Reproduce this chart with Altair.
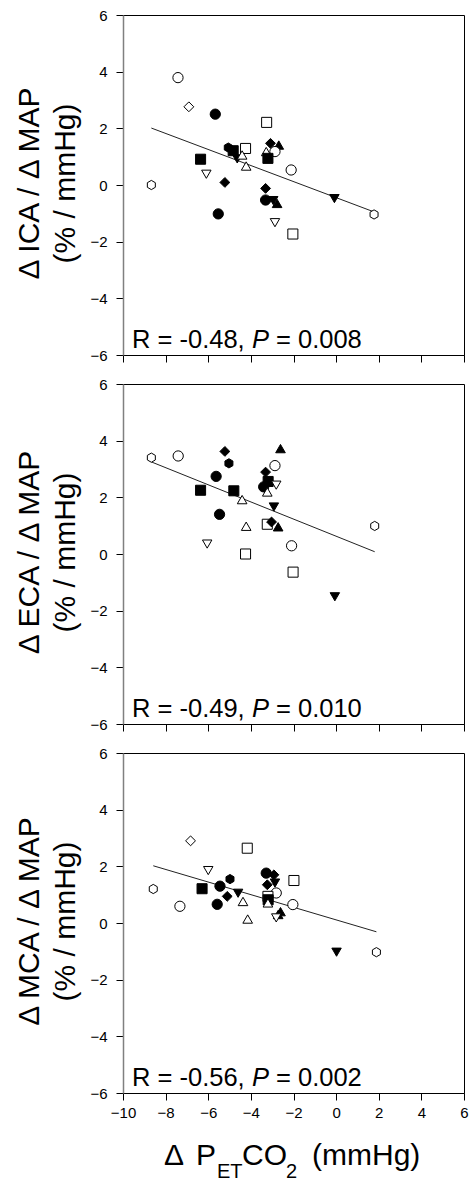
import altair as alt
import pandas as pd

FONT = "Arial"
C, S, D, TU, TD, H = "circle", "square", "diamond", "triangle-up", "triangle-down", "hexagon"
HEX_PATH = "M0,-1L0.866,-0.5L0.866,0.5L0,1L-0.866,0.5L-0.866,-0.5Z"
SHAPES = [C, S, D, TU, TD, H]
SHAPE_RANGE = ["circle", "square", "diamond", "triangle-up", "triangle-down", HEX_PATH]
SHAPE_SIZES = [105, 85, 150, 115, 115, 115]

x_ticks = [-10, -8, -6, -4, -2, 0, 2, 4, 6]
y_ticks = [-6, -4, -2, 0, 2, 4, 6]

# ---- Panel 1: ICA ----
ica_x = [-8.67, -7.42, -6.91, -5.67, -6.36, -6.09, -5.22, -5.53, -5.06, -4.83,
         -4.64, -4.25, -4.41, -4.22, -3.26, -3.08, -2.69, -3.28, -2.87, -3.20,
         -2.11, -3.31, -3.31, -2.95, -2.77, -0.08, -2.87, -2.03, 1.78]
ica_y = [0.00, 3.79, 2.76, 2.50, 0.91, 0.38, 0.09, -1.02, 1.32, 1.21,
         0.92, 1.29, 1.06, 0.67, 2.21, 1.47, 1.41, 1.18, 1.18, 0.94,
         0.53, -0.12, -0.53, -0.55, -0.65, -0.48, -1.33, -1.73, -1.04]
ica_shape = [H, C, D, C, S, TD, D, C, H, S,
             TD, S, TU, TU, S, D, TU, TU, C, S,
             C, D, C, TD, TU, TD, TD, S, H]
ica_filled = [0, 0, 0, 1, 1, 0, 1, 1, 1, 1,
              1, 0, 0, 0, 0, 1, 1, 0, 0, 1,
              0, 1, 1, 1, 1, 1, 0, 0, 0]
ica_fit_x = [-8.67, 1.78]
ica_fit_y = [2.01, -0.95]

# ---- Panel 2: ECA ----
eca_x = [-8.67, -7.41, -5.22, -5.03, -5.63, -6.36, -4.80, -4.41, -5.47, -4.22,
         -6.05, -2.61, -2.87, -3.31, -3.19, -3.40, -2.81, -3.23, -2.92, -3.23,
         -3.03, -2.72, -2.09, -4.25, -2.02, -0.06, 1.81]
eca_y = [3.40, 3.46, 3.62, 3.20, 2.74, 2.25, 2.23, 1.92, 1.40, 0.98,
         0.35, 3.72, 3.12, 2.89, 2.56, 2.37, 2.43, 2.19, 1.66, 1.05,
         1.13, 0.96, 0.29, 0.00, -0.64, -1.51, 0.99]
eca_shape = [H, C, D, H, C, S, S, TU, C, TU,
             TD, TU, C, D, S, C, TD, TU, TD, S,
             D, TU, C, S, S, TD, H]
eca_filled = [0, 0, 1, 1, 1, 1, 1, 0, 1, 0,
              0, 1, 0, 1, 1, 1, 0, 0, 1, 0,
              1, 1, 0, 0, 0, 1, 0]
eca_fit_x = [-8.67, 1.81]
eca_fit_y = [3.25, 0.08]

# ---- Panel 3: MCA ----
mca_x = [-8.58, -7.33, -6.83, -6.00, -6.29, -5.45, -5.58, -5.11, -4.98, -4.60,
         -4.37, -4.15, -4.17, -3.28, -2.92, -2.87, -3.23, -1.98, -2.81, -3.20,
         -3.19, -3.20, -2.03, -2.61, -2.72, -2.81, 0.02, 1.89]
mca_y = [1.20, 0.59, 2.90, 1.85, 1.21, 1.30, 0.66, 0.94, 1.55, 1.05,
         0.76, 0.14, 2.64, 1.76, 1.70, 1.41, 1.35, 1.50, 1.06, 0.94,
         0.82, 0.71, 0.65, 0.40, 0.30, 0.18, -1.03, -1.03]
mca_shape = [H, C, D, TD, S, C, C, D, H, TD,
             TU, TU, S, C, D, TD, D, S, C, S,
             S, TU, C, TU, TU, TD, TD, H]
mca_filled = [0, 0, 0, 0, 1, 1, 1, 1, 1, 1,
              0, 0, 0, 1, 1, 1, 1, 0, 0, 0,
              1, 0, 0, 1, 1, 0, 1, 0]
mca_fit_x = [-8.58, 1.89]
mca_fit_y = [2.02, -0.31]

r_labels = ["R = -0.48,", "R = -0.49,", "R = -0.56,"]
p_letter = "P"
p_labels = ["= 0.008", "= 0.010", "= 0.002"]
y_titles = [["\u0394 ICA / \u0394 MAP", "(% / mmHg)"],
            ["\u0394 ECA / \u0394 MAP", "(% / mmHg)"],
            ["\u0394 MCA / \u0394 MAP", "(% / mmHg)"]]
x_title_parts = ["\u0394", "P", "ET", "CO", "2", "(mmHg)"]
x_title_is_sub = [False, False, True, False, True, False]

W, HGT = 341, 340
XSC = alt.Scale(domain=[-10, 6], nice=False, zero=False)
YSC = alt.Scale(domain=[-6, 6], nice=False, zero=False)


def text_layer(s, x, y, size, italic=False):
    return alt.Chart(pd.DataFrame({"t": [s]})).mark_text(
        align="left", baseline="alphabetic", font=FONT, fontSize=size,
        fontStyle="italic" if italic else "normal", color="black"
    ).encode(text="t:N", x=alt.value(x), y=alt.value(y))


def panel(xs, ys, shapes, filled, fx, fy, r_lab, p_lab, ytitle, bottom):
    df = pd.DataFrame({"x": xs, "y": ys, "shape": shapes,
                       "fill": ["filled" if f else "open" for f in filled]})
    x_axis = alt.Axis(values=x_ticks, labels=bottom, title=None, grid=False,
                      tickSize=7, tickColor="black", domainColor="black",
                      labelFontSize=15, labelFont=FONT, labelColor="black",
                      labelPadding=5, labelFlush=False)
    y_axis = alt.Axis(values=y_ticks, title=ytitle, grid=False, tickSize=7,
                      tickColor="black", domainColor="#808080", domainWidth=1.5,
                      labelFontSize=15, labelFont=FONT, labelColor="black",
                      labelPadding=9, labelFlush=False,
                      titleFont=FONT, titleFontSize=30, titleFontWeight="normal",
                      titleColor="black", titleLineHeight=36, titleAngle=270,
                      titleAlign="center", titleBaseline="alphabetic",
                      titleX=-85, titleY=168)
    line = alt.Chart(pd.DataFrame({"x": fx, "y": fy})).mark_line(
        color="#222222", strokeWidth=1).encode(
        x=alt.X("x:Q", scale=XSC, axis=x_axis),
        y=alt.Y("y:Q", scale=YSC, axis=y_axis))
    pts = alt.Chart(df).mark_point(
        filled=True, stroke="black", strokeWidth=1, opacity=1,
        fillOpacity=1).encode(
        x=alt.X("x:Q", scale=XSC),
        y=alt.Y("y:Q", scale=YSC),
        shape=alt.Shape("shape:N", scale=alt.Scale(domain=SHAPES, range=SHAPE_RANGE), legend=None),
        size=alt.Size("shape:N", scale=alt.Scale(domain=SHAPES, range=SHAPE_SIZES), legend=None),
        fill=alt.Fill("fill:N", scale=alt.Scale(domain=["filled", "open"], range=["black", "white"]), legend=None))
    layers = [line, pts,
              text_layer(r_lab, 9, 333, 25.5),
              text_layer(p_letter, 129, 333, 25.5, italic=True),
              text_layer(p_lab, 153, 333, 25.5)]
    if bottom:
        xs_pos = [41, 73, 94, 119, 163, 189]
        for part, sub, px in zip(x_title_parts, x_title_is_sub, xs_pos):
            layers.append(text_layer(part, px, 425 if sub else 412, 20 if sub else 30))
    return alt.layer(*layers).properties(width=W, height=HGT)


p1 = panel(ica_x, ica_y, ica_shape, ica_filled, ica_fit_x, ica_fit_y,
           r_labels[0], p_labels[0], y_titles[0], False)
p2 = panel(eca_x, eca_y, eca_shape, eca_filled, eca_fit_x, eca_fit_y,
           r_labels[1], p_labels[1], y_titles[1], False)
p3 = panel(mca_x, mca_y, mca_shape, mca_filled, mca_fit_x, mca_fit_y,
           r_labels[2], p_labels[2], y_titles[2], True)

chart = alt.vconcat(p1, p2, p3, spacing=12).properties(
    padding={"left": 13, "top": 7, "right": 0, "bottom": 0}
).configure_view(stroke="black", strokeWidth=1)

chart.save("out.html", embed_options={"renderer": "svg", "actions": False})
